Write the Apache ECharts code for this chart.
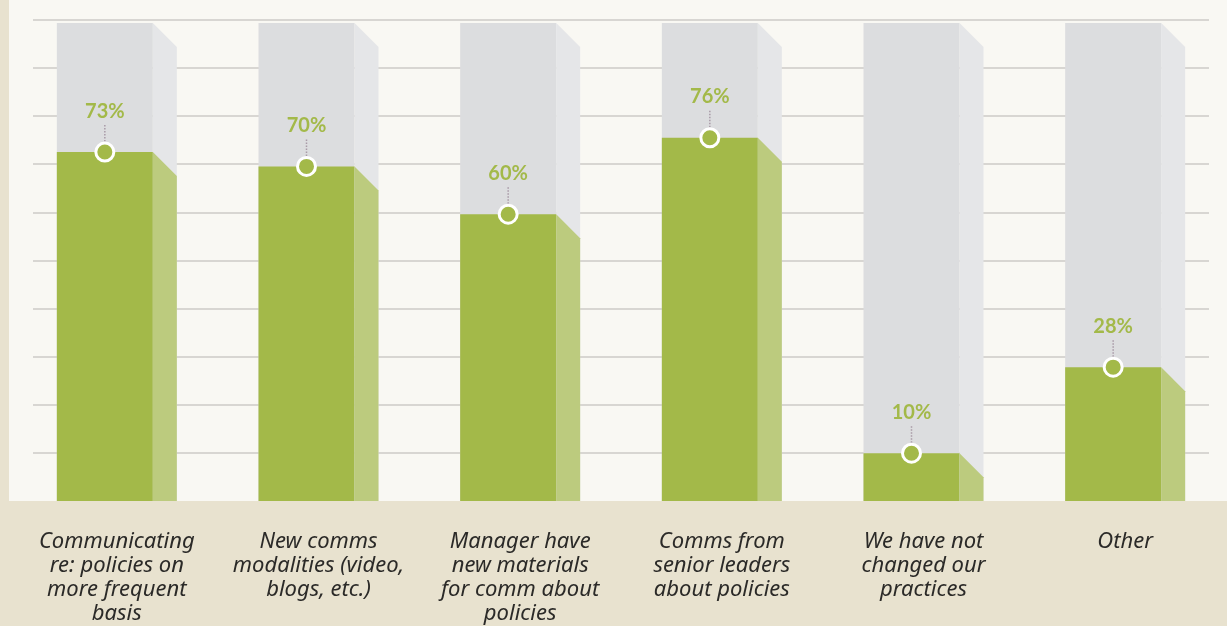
<!DOCTYPE html>
<html><head><meta charset="utf-8">
<script src="https://cdn.jsdelivr.net/npm/echarts@6/dist/echarts.min.js"></script>
<style>html,body{margin:0;padding:0;background:#e8e2cf;}#c{width:1227px;height:626px;}</style>
</head><body><div id="c"></div>
<script>
const categories = [
  "Communicating\nre: policies on\nmore frequent\nbasis",
  "New comms\nmodalities (video,\nblogs, etc.)",
  "Manager have\nnew materials\nfor comm about\npolicies",
  "Comms from\nsenior leaders\nabout policies",
  "We have not\nchanged our\npractices",
  "Other"
];
const values = [73, 70, 60, 76, 10, 28];
const totals = [100, 100, 100, 100, 100, 100];

const GREEN = '#a3b949', GREEN_SIDE = '#bccb7e', GRAY = '#dcdddf', GRAY_SIDE = '#e5e6e8';

function render3D(front, side, withMarker) {
  return function (params, api) {
    const idx = api.value(0), v = api.value(1);
    const base = api.coord([idx, 0]);
    const top = api.coord([idx, v]);
    const band = api.size([1, 0])[0];
    const w = band * 0.595;
    const fw = w * 0.8, sw = w - fw;
    const x0 = base[0] - w / 2, x1 = x0 + fw, x2 = x0 + w;
    const yb = base[1], yt = top[1];
    const sideTop = Math.min(yt + sw, yb);
    const children = [
      { type: 'rect', shape: { x: x0, y: yt, width: fw, height: yb - yt }, style: { fill: front } },
      { type: 'polygon', shape: { points: [[x1, yt], [x2, sideTop], [x2, yb], [x1, yb]] }, style: { fill: side } }
    ];
    if (withMarker) {
      const mx = x0 + fw / 2;
      children.push(
        { type: 'line', shape: { x1: mx, y1: yt - 27, x2: mx, y2: yt - 10 }, style: { stroke: '#a89aa6', lineWidth: 1.5, lineDash: [1.5, 1.5] } },
        { type: 'circle', shape: { cx: mx, cy: yt, r: 9 }, style: { fill: GREEN, stroke: '#ffffff', lineWidth: 3 } },
        { type: 'text', x: mx, y: yt - 41, style: { text: v + '%', fill: GREEN, font: 'bold 20px Lato', align: 'center', verticalAlign: 'middle' } }
      );
    }
    return { type: 'group', children };
  };
}

const chart = echarts.init(document.getElementById('c'), null, { renderer: 'canvas' });
chart.setOption({
  backgroundColor: '#e8e2cf',
  animation: false,
  graphic: [{ type: 'rect', z: -10, silent: true, shape: { x: 9, y: 0, width: 1218, height: 501 }, style: { fill: '#f9f8f3' } }],
  grid: [
    { left: 16, width: 1210, top: 23, bottom: 125 },
    { left: 33, right: 18, top: 20, bottom: 173.3 }
  ],
  xAxis: [
    { type: 'category', gridIndex: 0, data: categories, axisLine: { show: false }, axisTick: { show: false },
      axisLabel: { margin: 29, interval: 0, color: '#2b2a28', fontFamily: 'Noto Sans', fontStyle: 'italic', fontSize: 22, lineHeight: 24, verticalAlign: 'top' } },
    { type: 'value', gridIndex: 1, show: false, min: 0, max: 1 }
  ],
  yAxis: [
    { type: 'value', gridIndex: 0, min: 0, max: 100, show: false },
    { type: 'value', gridIndex: 1, min: 10, max: 100, interval: 10, axisLine: { show: false }, axisTick: { show: false }, axisLabel: { show: false },
      splitLine: { lineStyle: { color: '#d8d6d2', width: 2 } } }
  ],
  series: [
    { type: 'custom', xAxisIndex: 0, yAxisIndex: 0, renderItem: render3D(GRAY, GRAY_SIDE, false), data: totals.map((v, i) => [i, v]), z: 2 },
    { type: 'custom', xAxisIndex: 0, yAxisIndex: 0, renderItem: render3D(GREEN, GREEN_SIDE, true), data: values.map((v, i) => [i, v]), z: 3 }
  ]
});
</script></body></html>
